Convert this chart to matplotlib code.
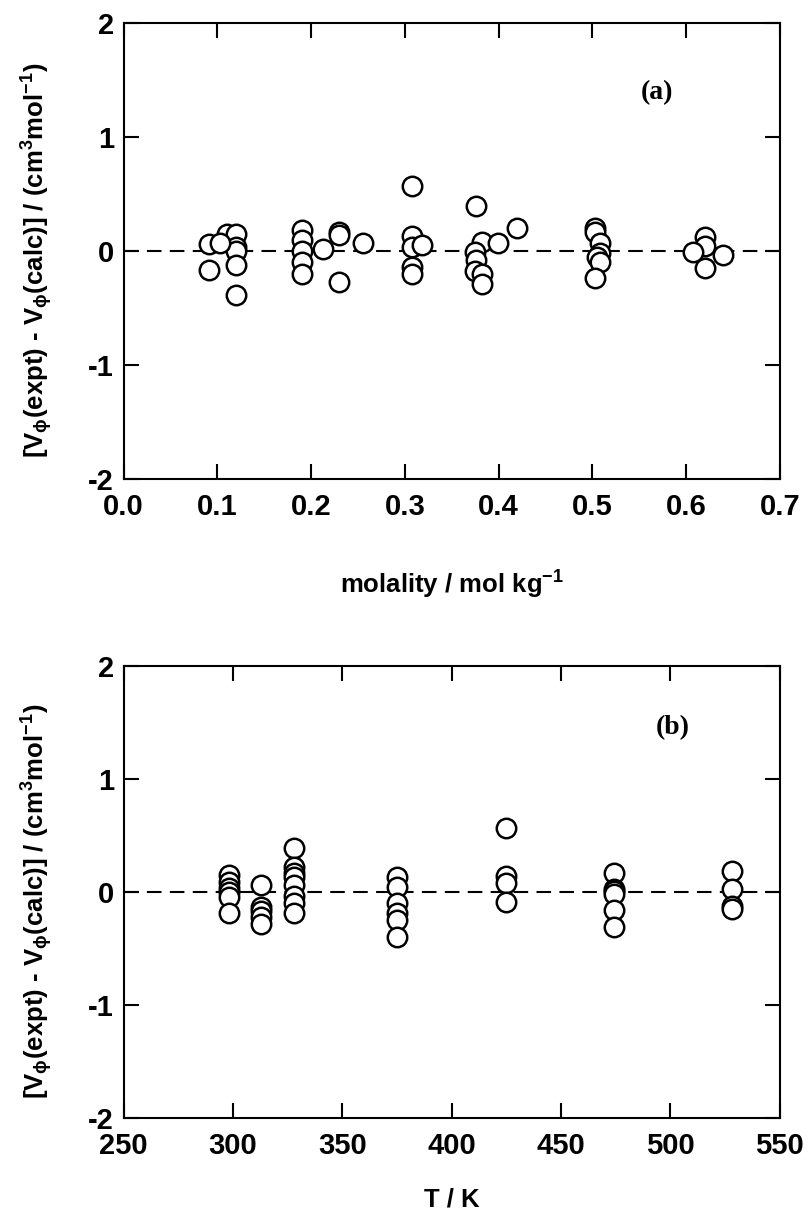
import numpy as np
import matplotlib
matplotlib.use("Agg")
import matplotlib.pyplot as plt

plt.rcParams['font.family'] = ['Liberation Sans', 'DejaVu Sans']
plt.rcParams['font.weight'] = 'bold'
plt.rcParams['axes.unicode_minus'] = False
plt.rcParams['mathtext.fontset'] = 'custom'
plt.rcParams['mathtext.rm'] = 'Liberation Sans:bold'
plt.rcParams['mathtext.it'] = 'Liberation Sans:bold'
plt.rcParams['mathtext.bf'] = 'Liberation Sans:bold'

# panel (a): deviation vs molality
mol_a = [0.091, 0.091, 0.110, 0.120, 0.120, 0.120, 0.120, 0.120, 0.103,
         0.190, 0.190, 0.190, 0.190, 0.190, 0.213, 0.230, 0.230, 0.230, 0.255,
         0.308, 0.308, 0.308, 0.318, 0.308, 0.308,
         0.376, 0.382, 0.399, 0.420, 0.375, 0.376, 0.375, 0.382, 0.382,
         0.503, 0.503, 0.508, 0.508, 0.505, 0.508, 0.503,
         0.620, 0.620, 0.607, 0.640, 0.620]
dev_a = [0.06, -0.17, 0.15, 0.15, 0.03, 0.00, -0.12, -0.39, 0.07,
         0.18, 0.10, 0.00, -0.10, -0.20, 0.02, 0.17, 0.14, -0.27, 0.07,
         0.57, 0.13, 0.03, 0.05, -0.14, -0.20,
         0.39, 0.08, 0.07, 0.20, -0.01, -0.08, -0.18, -0.20, -0.29,
         0.20, 0.17, 0.07, -0.02, -0.05, -0.10, -0.24,
         0.12, 0.04, -0.01, -0.04, -0.15]

# panel (b): deviation vs temperature
T_b = [298, 298, 298, 298, 298, 298,
       313, 313, 313, 313, 313,
       328, 328, 328, 328, 328, 328, 328, 328,
       375, 375, 375, 375, 375, 375,
       425, 425, 425, 425,
       474, 474, 474, 474, 474, 474,
       528, 528, 528, 528]
dev_b = [0.15, 0.09, 0.04, 0.00, -0.04, -0.18,
         0.06, -0.13, -0.17, -0.22, -0.28,
         0.39, 0.22, 0.17, 0.13, 0.06, -0.03, -0.10, -0.18,
         0.13, 0.05, -0.10, -0.18, -0.25, -0.40,
         0.57, 0.14, 0.08, -0.09,
         0.17, 0.03, 0.01, -0.02, -0.16, -0.31,
         0.19, 0.03, -0.12, -0.15]

ylabel = r"[V$_\phi$(expt) - V$_\phi$(calc)] / (cm$^3$mol$^{-1}$)"


def style_axes(ax, xlim, xticks, xfmt):
    ax.axhline(0, color='black', lw=1.5, ls=(0, (7, 4)), zorder=1)
    ax.set_xlim(*xlim)
    ax.set_ylim(-2, 2)
    ax.set_xticks(xticks)
    ax.set_xticklabels([xfmt.format(t) for t in xticks])
    ax.set_yticks([-2, -1, 0, 1, 2])
    ax.tick_params(direction='in', top=True, right=True, length=11,
                   width=1.5, labelsize=21)
    ax.tick_params(axis='x', pad=10)
    ax.tick_params(axis='y', pad=7)
    for sp in ax.spines.values():
        sp.set_linewidth(1.5)
    ax.set_ylabel(ylabel, fontsize=18.5, fontweight='bold')
    ax.yaxis.set_label_coords(-0.104, 0.48)


fig = plt.figure(figsize=(8.08, 12.18), dpi=100)
ax1 = fig.add_axes([0.153, 0.607, 0.812, 0.374])
ax2 = fig.add_axes([0.153, 0.082, 0.812, 0.371])

ax1.plot(mol_a, dev_a, 'o', ms=14, mfc='white', mec='black', mew=1.8, zorder=3)
style_axes(ax1, (0, 0.7), np.arange(0, 0.71, 0.1), "{:.1f}")
ax1.set_xlabel(r"molality / mol kg$^{-1}$", fontsize=18.5, fontweight='bold', labelpad=35)
ax1.text(0.569, 1.39, "(a)", fontsize=20, fontweight='bold', family='Liberation Serif',
         ha='center', va='center')

ax2.plot(T_b, dev_b, 'o', ms=14, mfc='white', mec='black', mew=1.8, zorder=3)
style_axes(ax2, (250, 550), np.arange(250, 551, 50), "{:.0f}")
ax2.set_xlabel("T / K", fontsize=18.5, fontweight='bold', labelpad=20)
ax2.text(501, 1.46, "(b)", fontsize=20, fontweight='bold', family='Liberation Serif',
         ha='center', va='center')

fig.savefig("out.png", dpi=100)
